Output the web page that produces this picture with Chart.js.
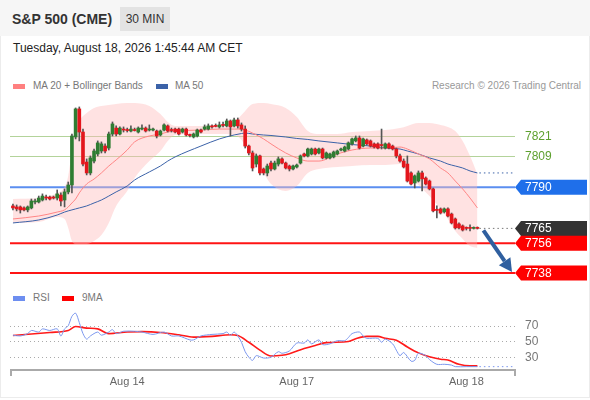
<!DOCTYPE html>
<html>
<head>
<meta charset="utf-8">
<script src="https://cdn.jsdelivr.net/npm/chart.js@4.4.1/dist/chart.umd.min.js"></script>
<style>
  html, body { margin: 0; padding: 0; background: #fff; }
  body { width: 590px; height: 400px; position: relative; overflow: hidden; font-family: "Liberation Sans", Arial, sans-serif; }
  .head { position: absolute; left: 0; top: 0; width: 590px; height: 36px; background: #f6f6f6; }
  .frame { position: absolute; left: 0; top: 36px; width: 588px; height: 361px; border: 1px solid #ececec; border-top: none; }
  .title { position: absolute; left: 12px; top: 11px; font-size: 14px; font-weight: bold; color: #333; }
  .tf { position: absolute; left: 120px; top: 7px; width: 50px; height: 24px; line-height: 24px; background: #e3e3e3; color: #333; font-size: 12px; text-align: center; }
  .date { position: absolute; left: 13px; top: 41px; font-size: 12px; color: #222; }
  .lg { position: absolute; font-size: 10px; color: #777; white-space: nowrap; }
  .sw { position: absolute; width: 12px; height: 5px; }
  canvas { position: absolute; left: 0; }
</style>
</head>
<body>
<div class="head"></div>
<div class="frame"></div>
<div class="title">S&amp;P 500 (CME)</div>
<div class="tf">30 MIN</div>
<div class="date">Tuesday, August 18, 2026 1:45:44 AM CET</div>

<div class="sw" style="left:13px;top:84px;background:#ff8080"></div>
<div class="lg" style="left:33px;top:80px">MA 20 + Bollinger Bands</div>
<div class="sw" style="left:156px;top:84px;background:#3b62a8"></div>
<div class="lg" style="left:175px;top:80px">MA 50</div>
<div class="lg" style="right:9px;top:80px;color:#999">Research © 2026 Trading Central</div>

<div class="sw" style="left:13px;top:296px;background:#6d8ef0"></div>
<div class="lg" style="left:33px;top:292px">RSI</div>
<div class="sw" style="left:62px;top:296px;background:#ff0000"></div>
<div class="lg" style="left:82px;top:292px">9MA</div>

<canvas id="price" width="590" height="195" style="top:95px"></canvas>
<canvas id="osc" width="590" height="110" style="top:290px"></canvas>

<script>
// 30 min candles, Aug 13 evening -> Aug 18 01:30 CET
const open = [7778.6, 7778.0, 7778.0, 7777.4, 7776.2, 7777.4, 7781.0, 7781.0, 7782.2, 7784.0,
  7784.0, 7784.0, 7783.4, 7785.2, 7782.2, 7787.1, 7791.3, 7820.4, 7837.4, 7823.4,
  7805.2, 7798.6, 7805.8, 7810.1, 7811.9, 7814.9, 7813.7, 7822.2, 7825.8, 7822.2,
  7825.2, 7824.6, 7824.0, 7824.6, 7823.4, 7825.2, 7825.8, 7824.6, 7824.6, 7824.0,
  7821.6, 7824.6, 7827.1, 7824.6, 7825.2, 7825.2, 7823.4, 7825.2, 7821.6, 7820.4,
  7821.0, 7824.6, 7825.2, 7825.2, 7827.1, 7827.1, 7826.5, 7827.7, 7827.1, 7830.1,
  7827.1, 7830.7, 7827.7, 7825.2, 7814.9, 7810.7, 7804.0, 7808.9, 7801.0, 7798.6,
  7804.6, 7801.0, 7804.0, 7807.1, 7804.6, 7802.8, 7801.0, 7802.2, 7804.6, 7810.1,
  7808.9, 7810.1, 7813.1, 7810.7, 7813.1, 7807.7, 7807.7, 7808.3, 7810.1, 7812.5,
  7811.9, 7813.1, 7816.2, 7818.0, 7819.8, 7814.9, 7818.6, 7818.0, 7816.2, 7816.2,
  7815.5, 7813.7, 7816.2, 7814.9, 7813.1, 7808.9, 7805.8, 7804.0, 7798.6, 7792.5,
  7793.7, 7798.6, 7795.5, 7793.7, 7788.9, 7776.2, 7776.8, 7775.0, 7776.8, 7773.7,
  7770.7, 7767.7, 7766.5, 7765.3, 7765.3, 7765.0, 7765.1];
const high = [7779.8, 7779.2, 7778.6, 7778.0, 7778.6, 7782.8, 7782.8, 7784.6, 7785.9, 7785.2,
  7784.6, 7784.6, 7788.3, 7786.5, 7788.9, 7793.1, 7822.2, 7838.0, 7838.6, 7825.2,
  7807.1, 7808.9, 7813.1, 7818.0, 7817.4, 7816.2, 7823.4, 7829.5, 7827.1, 7826.5,
  7826.5, 7825.8, 7827.1, 7825.8, 7826.5, 7827.7, 7826.5, 7827.7, 7825.8, 7824.6,
  7824.6, 7828.3, 7827.7, 7825.8, 7825.8, 7825.8, 7825.8, 7825.8, 7822.2, 7822.8,
  7825.2, 7825.2, 7827.7, 7828.3, 7827.7, 7828.3, 7829.5, 7829.5, 7831.3, 7830.7,
  7831.9, 7831.9, 7828.9, 7827.1, 7815.5, 7811.9, 7810.1, 7809.5, 7801.6, 7804.0,
  7805.8, 7805.8, 7808.3, 7807.7, 7805.2, 7803.4, 7803.4, 7804.0, 7809.5, 7810.7,
  7813.7, 7813.7, 7813.7, 7813.7, 7813.7, 7811.3, 7810.7, 7811.9, 7812.5, 7813.7,
  7814.9, 7817.4, 7819.8, 7821.0, 7821.0, 7819.8, 7819.2, 7818.6, 7816.8, 7816.8,
  7825.2, 7816.8, 7816.8, 7815.5, 7813.7, 7810.1, 7807.1, 7808.9, 7799.2, 7797.4,
  7799.8, 7799.8, 7796.2, 7794.3, 7789.5, 7778.6, 7777.4, 7777.4, 7777.4, 7774.3,
  7771.3, 7768.3, 7767.1, 7765.9, 7767.1, 7765.9, 7765.9];
const low = [7776.2, 7775.6, 7774.3, 7775.6, 7775.0, 7776.8, 7779.8, 7780.4, 7781.6, 7782.2,
  7782.2, 7782.8, 7782.2, 7778.6, 7778.0, 7785.9, 7786.5, 7819.2, 7818.0, 7802.8,
  7797.4, 7797.4, 7804.6, 7808.9, 7810.7, 7810.7, 7812.5, 7821.0, 7821.0, 7821.6,
  7823.4, 7823.4, 7823.4, 7824.0, 7822.8, 7824.6, 7823.4, 7824.0, 7824.0, 7819.8,
  7821.0, 7824.0, 7823.4, 7823.4, 7822.8, 7821.6, 7822.8, 7821.0, 7820.4, 7819.8,
  7820.4, 7822.8, 7824.6, 7824.6, 7825.8, 7826.5, 7825.8, 7826.5, 7826.5, 7821.0,
  7826.5, 7825.8, 7824.0, 7813.7, 7809.5, 7799.8, 7802.2, 7797.4, 7797.4, 7796.8,
  7799.8, 7800.4, 7802.8, 7804.0, 7801.0, 7799.8, 7800.4, 7801.6, 7804.0, 7808.3,
  7808.3, 7809.5, 7809.5, 7810.1, 7807.1, 7807.1, 7807.1, 7807.7, 7809.5, 7811.9,
  7811.3, 7812.5, 7815.5, 7817.4, 7813.1, 7814.3, 7815.5, 7814.3, 7813.7, 7813.1,
  7813.1, 7813.1, 7813.1, 7812.5, 7807.7, 7805.2, 7801.6, 7793.1, 7791.3, 7789.5,
  7793.1, 7787.7, 7791.3, 7788.3, 7775.0, 7771.3, 7773.7, 7774.3, 7771.9, 7767.7,
  7764.6, 7764.6, 7763.4, 7764.0, 7763.4, 7764.6, 7764.6];
const close = [7777.4, 7776.8, 7776.2, 7776.2, 7778.0, 7781.6, 7781.6, 7783.4, 7784.6, 7783.4,
  7782.8, 7783.4, 7785.9, 7781.6, 7787.1, 7791.3, 7821.0, 7837.4, 7823.4, 7804.0,
  7798.6, 7807.7, 7811.9, 7816.8, 7816.2, 7811.9, 7822.2, 7828.3, 7822.2, 7825.8,
  7824.6, 7824.3, 7825.2, 7824.3, 7825.8, 7825.8, 7824.0, 7824.9, 7824.8, 7821.0,
  7824.0, 7827.7, 7824.0, 7824.3, 7823.4, 7822.2, 7825.2, 7821.6, 7821.3, 7822.2,
  7824.6, 7823.4, 7826.5, 7827.1, 7826.5, 7826.8, 7827.7, 7827.4, 7830.1, 7826.5,
  7830.7, 7827.1, 7825.2, 7814.9, 7810.7, 7801.6, 7808.9, 7798.6, 7798.6, 7802.8,
  7801.0, 7804.6, 7807.1, 7804.6, 7801.6, 7801.0, 7802.8, 7803.4, 7808.9, 7808.9,
  7813.1, 7813.1, 7810.1, 7813.1, 7807.7, 7810.7, 7810.1, 7811.3, 7811.9, 7812.8,
  7814.3, 7816.8, 7819.2, 7819.8, 7813.7, 7819.2, 7816.2, 7814.9, 7814.3, 7813.7,
  7815.2, 7816.2, 7813.7, 7813.1, 7808.9, 7805.8, 7802.2, 7793.7, 7791.9, 7796.8,
  7798.6, 7795.0, 7791.9, 7788.9, 7775.6, 7775.9, 7774.3, 7776.8, 7772.5, 7768.3,
  7765.3, 7765.3, 7764.0, 7765.0, 7765.0, 7765.3, 7765.0];

// indicator readings (candle index -> price)
const indIdx = [0, 7, 12, 14, 15, 16, 17, 18, 20, 22, 24, 26, 28, 31, 33, 37, 40, 42, 44, 51, 56, 60, 62,
  63, 65, 68, 70, 74, 77, 80, 83, 88, 92, 97, 101, 105, 107, 110, 113, 116, 118, 120, 122, 124, 126];
const bbUpper = [7782.8, 7783.4, 7786.5, 7790.1, 7796.8, 7811.9, 7824.0, 7830.1, 7834.9, 7838.0, 7839.2,
  7839.8, 7840.4, 7841.0, 7841.0, 7839.2, 7834.3, 7829.5, 7827.1, 7827.1, 7827.7, 7829.5, 7833.7,
  7836.2, 7840.4, 7841.0, 7840.4, 7838.0, 7832.5, 7824.0, 7822.2, 7822.2, 7823.4, 7824.0, 7824.6,
  7825.8, 7827.1, 7828.9, 7828.9, 7827.7, 7826.5, 7824.0, 7818.0, 7808.9, 7798.0];
const bbLower = [7768.3, 7768.9, 7771.9, 7770.7, 7765.3, 7757.4, 7755.6, 7755.6, 7755.6, 7757.4, 7761.0,
  7768.3, 7778.6, 7787.7, 7795.5, 7805.8, 7811.9, 7818.0, 7821.6, 7822.2, 7822.2, 7821.6, 7818.6,
  7814.9, 7808.9, 7798.6, 7791.9, 7787.7, 7790.7, 7798.6, 7801.0, 7802.2, 7802.8, 7803.4, 7803.4,
  7804.0, 7799.8, 7791.3, 7784.6, 7776.8, 7770.7, 7763.4, 7758.6, 7754.3, 7753.1];
const ma20 = [7770.7, 7772.5, 7774.9, 7776.2, 7778.0, 7780.4, 7782.8, 7786.5, 7791.9, 7794.9, 7798.6,
  7802.8, 7806.5, 7812.5, 7817.4, 7821.0, 7822.2, 7823.4, 7824.0, 7824.6, 7825.2, 7825.2, 7825.2,
  7824.6, 7822.8, 7819.2, 7816.2, 7810.7, 7807.7, 7805.8, 7805.8, 7810.1, 7812.5, 7813.7, 7813.7,
  7814.3, 7813.1, 7810.1, 7807.1, 7801.6, 7798.6, 7793.7, 7788.9, 7783.4, 7777.4];
const ma50 = [7768.3, 7770.1, 7773.1, 7774.9, 7775.6, 7776.2, 7776.8, 7777.4, 7778.6, 7780.4, 7782.2,
  7784.6, 7787.1, 7790.7, 7794.3, 7799.2, 7802.8, 7805.8, 7808.3, 7814.9, 7819.2, 7821.6, 7822.5,
  7822.8, 7822.2, 7821.6, 7821.3, 7820.4, 7819.5, 7818.9, 7818.0, 7816.8, 7815.8, 7814.9, 7813.7,
  7813.1, 7811.9, 7810.1, 7807.7, 7805.8, 7804.0, 7802.8, 7801.6, 7799.8, 7798.6];

// RSI panel
const rsiIdx = [0, 2, 4, 5, 7, 8, 10, 12, 13, 14, 15, 16, 17, 18, 19, 20, 21, 23, 24, 26, 27, 28, 30, 33,
  35, 38, 41, 43, 45, 48, 49, 51, 54, 57, 58, 59, 60, 61, 62, 63, 64, 65, 66, 68, 70, 72, 73, 75,
  77, 79, 80, 81, 83, 84, 86, 88, 90, 91, 92, 94, 95, 96, 99, 100, 101, 103, 104, 105, 106, 108,
  109, 110, 112, 113, 115, 117, 119, 120, 123, 126];
const rsi = [58, 57, 60, 64, 62, 66, 64, 66, 57, 66, 70, 82, 86, 74, 60, 53, 57, 62, 58, 62, 65, 60, 63, 63,
  62, 59, 62, 57, 57, 52, 52, 57, 59, 60, 62, 58, 62, 57, 49, 37, 30, 26, 32, 29, 30, 37, 35, 38,
  48, 48, 52, 47, 52, 46, 47, 51, 51, 55, 60, 62, 57, 54, 54, 49, 53, 47, 39, 32, 36, 25,
  26, 35, 32, 27, 21, 21, 20, 18, 18, 18];
const rsiMaIdx = [0, 5, 10, 15, 17, 20, 23, 26, 31, 35, 40, 45, 49, 54, 59, 61, 64, 67, 70, 73, 75, 79,
  82, 85, 91, 93, 96, 99, 101, 104, 107, 110, 113, 116, 118, 121, 124, 126];
const rsiMa = [57.5, 59.5, 61.5, 64, 69, 67, 66, 60, 62, 62.5, 61.5, 58.5, 55.5, 56.5, 58.5, 57.5, 49, 39,
  31.5, 32.5, 34.5, 41, 45, 48.5, 50, 53.5, 56.5, 56.5, 54, 51.5, 43, 35.5, 30.5, 27.5, 26.5, 21, 19, 19];
const rsiLevels = [70, 50, 30];

const support = [7756, 7738];
const resist = [7821, 7809];
const pivot = 7790;
const dayLabels = ['Aug 14', 'Aug 17', 'Aug 18'];
const dayIdx = [31, 77, 123];

const FONT = '"Liberation Sans", Arial, sans-serif';
const n = close.length;
const idx = close.map((c, i) => i);
const pts = (xs, ys) => xs.map((x, k) => ({ x: x, y: ys[k] }));
const X_MIN = -0.8, X_MAX = 136.2;

function tag(ctx, x, y, text, bg) {
  ctx.save();
  ctx.fillStyle = bg;
  ctx.beginPath();
  ctx.moveTo(x, y);
  ctx.lineTo(x + 6, y - 7.5);
  ctx.lineTo(x + 72, y - 7.5);
  ctx.lineTo(x + 72, y + 7.5);
  ctx.lineTo(x + 6, y + 7.5);
  ctx.closePath();
  ctx.fill();
  ctx.fillStyle = '#fff';
  ctx.font = '12px ' + FONT;
  ctx.textBaseline = 'middle';
  ctx.fillText(text, x + 10, y + 0.5);
  ctx.restore();
}

function hline(ctx, area, y, color, width, dash) {
  ctx.save();
  ctx.strokeStyle = color;
  ctx.lineWidth = width;
  ctx.setLineDash(dash || []);
  ctx.beginPath();
  ctx.moveTo(area.left, y);
  ctx.lineTo(area.right, y);
  ctx.stroke();
  ctx.restore();
}

const pricePlugin = {
  id: 'levels',
  beforeDatasetsDraw(chart) {
    const ctx = chart.ctx, a = chart.chartArea, y = chart.scales.y;
    resist.forEach(v => hline(ctx, a, Math.round(y.getPixelForValue(v)) + 0.5, '#b3d39a', 1));
    hline(ctx, a, y.getPixelForValue(pivot), '#5b8ef0', 2);
    support.forEach(v => hline(ctx, a, y.getPixelForValue(v), '#ff1414', 2));
  },
  afterDraw(chart) {
    const ctx = chart.ctx, a = chart.chartArea, x = chart.scales.x, y = chart.scales.y;
    const xl = x.getPixelForValue(n - 1) + 2;
    // dotted extensions
    ctx.save();
    ctx.setLineDash([1.5, 3]);
    ctx.lineWidth = 1;
    ctx.strokeStyle = '#3b62a8';
    let yy = y.getPixelForValue(ma50[ma50.length - 1]);
    ctx.beginPath(); ctx.moveTo(xl, yy); ctx.lineTo(a.right, yy); ctx.stroke();
    ctx.strokeStyle = '#777';
    yy = y.getPixelForValue(close[n - 1]);
    ctx.beginPath(); ctx.moveTo(xl, yy); ctx.lineTo(a.right, yy); ctx.stroke();
    ctx.restore();

    // level labels
    ctx.save();
    ctx.font = '12px ' + FONT;
    ctx.textBaseline = 'middle';
    ctx.fillStyle = '#5ea02f';
    resist.forEach(v => ctx.fillText(String(v), a.right + 10, y.getPixelForValue(v) + 0.5));
    ctx.restore();
    tag(ctx, a.right, y.getPixelForValue(pivot), String(pivot), '#1f6fea');
    tag(ctx, a.right, y.getPixelForValue(close[n - 1]), String(Math.round(close[n - 1])), '#333');
    support.forEach(v => tag(ctx, a.right, y.getPixelForValue(v), String(v), '#ff0000'));

    // arrow towards the second support
    const x0 = x.getPixelForValue(n - 1) + 6, y0 = y.getPixelForValue(close[n - 1]) + 2;
    const x1 = a.right - 3, y1 = y.getPixelForValue(support[1]) - 1;
    const ang = Math.atan2(y1 - y0, x1 - x0), hl = 13, hw = 7;
    const bx = x1 - hl * Math.cos(ang), by = y1 - hl * Math.sin(ang);
    ctx.save();
    ctx.strokeStyle = ctx.fillStyle = '#2f5f9f';
    ctx.lineWidth = 4;
    ctx.beginPath(); ctx.moveTo(x0, y0); ctx.lineTo(bx, by); ctx.stroke();
    ctx.beginPath();
    ctx.moveTo(x1, y1);
    ctx.lineTo(bx + hw * Math.sin(ang), by - hw * Math.cos(ang));
    ctx.lineTo(bx - hw * Math.sin(ang), by + hw * Math.cos(ang));
    ctx.closePath(); ctx.fill();
    ctx.restore();
  }
};

new Chart(document.getElementById('price'), {
  type: 'bar',
  data: {
    datasets: [
      {
        data: idx.map(i => ({ x: i, y: [open[i], close[i]] })),
        backgroundColor: idx.map(i => close[i] >= open[i] ? '#2f7d32' : '#e3161c'),
        barThickness: 3, grouped: false, minBarLength: 1, order: 0
      },
      {
        data: idx.map(i => ({ x: i, y: [low[i], high[i]] })),
        backgroundColor: '#555', barThickness: 1, grouped: false, order: 1
      },
      {
        type: 'line', data: pts(indIdx, ma20), borderColor: '#ff8585', borderWidth: 1,
        pointRadius: 0, cubicInterpolationMode: 'monotone', order: 2
      },
      {
        type: 'line', data: pts(indIdx, ma50), borderColor: '#3b62a8', borderWidth: 1,
        pointRadius: 0, cubicInterpolationMode: 'monotone', order: 3
      },
      {
        type: 'line', data: pts(indIdx, bbUpper), borderWidth: 0, pointRadius: 0,
        cubicInterpolationMode: 'monotone', fill: '+1', backgroundColor: 'rgba(255,185,185,0.42)', order: 4
      },
      {
        type: 'line', data: pts(indIdx, bbLower), borderWidth: 0, pointRadius: 0,
        cubicInterpolationMode: 'monotone', fill: false, order: 5
      }
    ]
  },
  options: {
    responsive: false,
    animation: false,
    events: [],
    layout: { padding: { left: 10, right: 75, top: 6, bottom: 7 } },
    plugins: { legend: { display: false }, tooltip: { enabled: false } },
    scales: {
      x: { type: 'linear', min: X_MIN, max: X_MAX, offset: false, display: false },
      y: { min: 7731.9, max: 7842.2, display: false }
    }
  },
  plugins: [pricePlugin]
});

const oscPlugin = {
  id: 'osc',
  beforeDatasetsDraw(chart) {
    const ctx = chart.ctx, a = chart.chartArea, y = chart.scales.y;
    rsiLevels.forEach(v => hline(ctx, a, Math.round(y.getPixelForValue(v)) + 0.5, '#aaa', 1, [1, 3]));
  },
  afterDraw(chart) {
    const ctx = chart.ctx, a = chart.chartArea, x = chart.scales.x, y = chart.scales.y;
    ctx.save();
    ctx.font = '12px ' + FONT;
    ctx.fillStyle = '#777';
    ctx.textBaseline = 'middle';
    rsiLevels.forEach(v => ctx.fillText(String(v), a.right + 10, y.getPixelForValue(v)));
    // dotted extension of last RSI value
    const last = rsi[rsi.length - 1];
    ctx.strokeStyle = '#7b97ee';
    ctx.setLineDash([1.5, 3]);
    ctx.beginPath();
    ctx.moveTo(x.getPixelForValue(rsiIdx[rsiIdx.length - 1]) + 2, y.getPixelForValue(last));
    ctx.lineTo(a.right, y.getPixelForValue(last));
    ctx.stroke();
    ctx.setLineDash([]);
    // time axis
    const yb = a.bottom;
    ctx.strokeStyle = '#aaa';
    ctx.lineWidth = 2;
    ctx.beginPath();
    ctx.moveTo(a.left + 1, yb + 6);
    ctx.lineTo(a.left + 1, yb);
    ctx.lineTo(a.right, yb);
    ctx.lineTo(a.right, yb + 6);
    ctx.stroke();
    ctx.font = '11px ' + FONT;
    ctx.fillStyle = '#666';
    ctx.textAlign = 'center';
    dayLabels.forEach((t, k) => ctx.fillText(t, x.getPixelForValue(dayIdx[k]), yb + 12));
    ctx.restore();
  }
};

new Chart(document.getElementById('osc'), {
  type: 'line',
  data: {
    datasets: [
      {
        data: pts(rsiIdx, rsi), borderColor: '#7b97ee', borderWidth: 1, pointRadius: 0,
        tension: 0.3, order: 0
      },
      {
        data: pts(rsiMaIdx, rsiMa), borderColor: '#ff1a1a', borderWidth: 1.6, pointRadius: 0,
        cubicInterpolationMode: 'monotone', order: 1
      }
    ]
  },
  options: {
    responsive: false,
    animation: false,
    events: [],
    layout: { padding: { left: 10, right: 75, top: 20, bottom: 30 } },
    plugins: { legend: { display: false }, tooltip: { enabled: false } },
    scales: {
      x: { type: 'linear', min: X_MIN, max: X_MAX, display: false },
      y: { min: 13.75, max: 90, display: false }
    }
  },
  plugins: [oscPlugin]
});
</script>
</body>
</html>
